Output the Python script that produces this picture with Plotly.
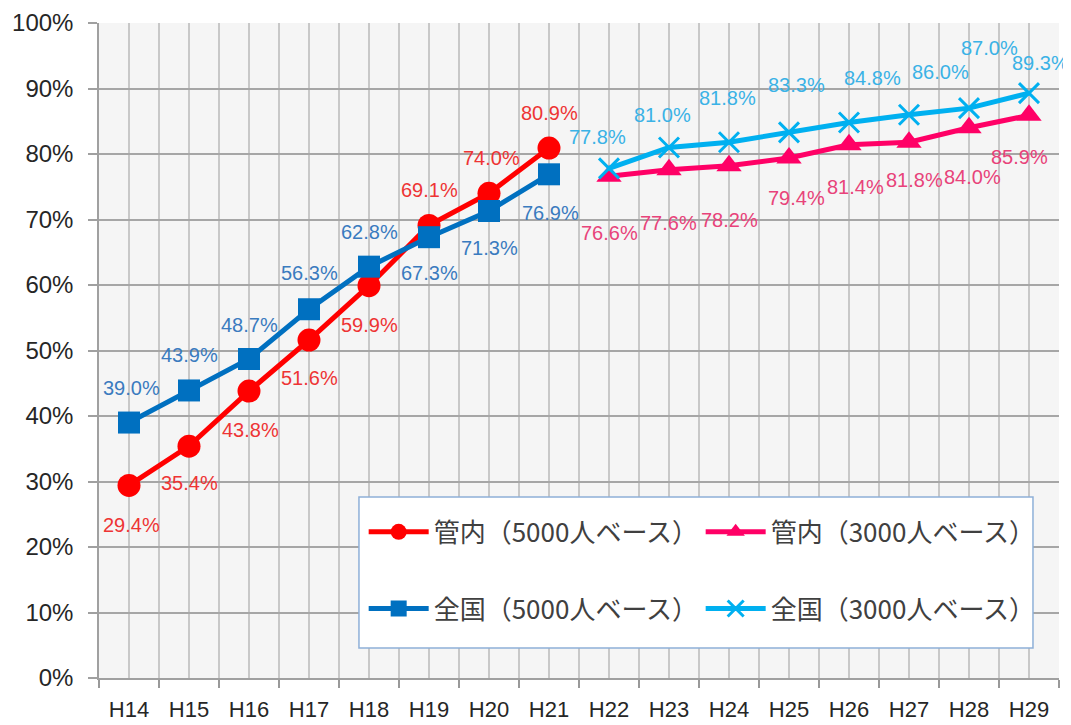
import plotly.graph_objects as go

# ---- data ----
categories = ["H14", "H15", "H16", "H17", "H18", "H19", "H20", "H21",
              "H22", "H23", "H24", "H25", "H26", "H27", "H28", "H29"]
kannai_5000 = [29.4, 35.4, 43.8, 51.6, 59.9, 69.1, 74.0, 80.9]          # H14-H21
zenkoku_5000 = [39.0, 43.9, 48.7, 56.3, 62.8, 67.3, 71.3, 76.9]         # H14-H21
kannai_3000 = [76.6, 77.6, 78.2, 79.4, 81.4, 81.8, 84.0, 85.9]          # H22-H29
zenkoku_3000 = [77.8, 81.0, 81.8, 83.3, 84.8, 86.0, 87.0, 89.3]         # H22-H29
y_ticks = [0, 10, 20, 30, 40, 50, 60, 70, 80, 90, 100]

names = ["管内（5000人ベース）", "全国（5000人ベース）",
         "管内（3000人ベース）", "全国（3000人ベース）"]

# ---- styles ----
x_pos = list(range(len(categories)))
first_half = x_pos[:8]
second_half = x_pos[8:]

series = [
    dict(name=names[0], x=first_half, y=kannai_5000, color="#FF0000", symbol="circle",
         size=23, label_color="#EE3434", legend="legend"),
    dict(name=names[1], x=first_half, y=zenkoku_5000, color="#0070C0", symbol="square",
         size=22, label_color="#3A7BBF", legend="legend2"),
    dict(name=names[2], x=second_half, y=kannai_3000, color="#FF0066", symbol="triangle-up",
         size=22, label_color="#E8437A", legend="legend"),
    dict(name=names[3], x=second_half, y=zenkoku_3000, color="#00B0F0", symbol="x-thin",
         size=20, label_color="#3AB2E6", legend="legend2"),
]

# label offsets in pixels (dx right, dy down) per point
label_offsets = [
    [(2, 40), (0, 37), (1, 39), (0, 38), (0, 39), (0, -35), (2, -35), (0, -35)],
    [(2, -35), (0, -35), (0, -34), (0, -36), (0, -35), (0, 36), (0, 37), (1, 39)],
    [(0, 57), (-1, 53), (0, 54), (7, 40), (6, 42), (5, 38), (3, 49), (-10, 42)],
    [(-12, -31), (-7, -32), (-2, -44), (7, -47), (23, -45), (31, -43), (20, -60), (11, -30)],
]

fig = go.Figure()
annotations = []
for s, offs in zip(series, label_offsets):
    marker = dict(symbol=s["symbol"], size=s["size"], color=s["color"])
    if s["symbol"] == "x-thin":
        marker["line"] = dict(color=s["color"], width=3)
    fig.add_trace(go.Scatter(
        x=s["x"], y=s["y"], name=s["name"], mode="lines+markers",
        line=dict(color=s["color"], width=5),
        marker=marker, legend=s["legend"], cliponaxis=False,
    ))
    for xi, yi, (dx, dy) in zip(s["x"], s["y"], offs):
        annotations.append(dict(
            x=xi, y=yi, text=f"{yi:.1f}%", showarrow=False,
            xshift=dx, yshift=-dy, xref="x", yref="y",
            font=dict(family="Liberation Sans, Arial", size=20, color=s["label_color"]),
        ))

legend_common = dict(
    orientation="h", entrywidth=262, entrywidthmode="pixels",
    bgcolor="rgba(0,0,0,0)", borderwidth=0,
    font=dict(family="Noto Sans CJK JP", size=26, color="#404040"),
    xanchor="left", yanchor="middle", itemwidth=60,
)

fig.update_layout(
    width=1063, height=717,
    margin=dict(l=91, r=12, t=15, b=47, autoexpand=False),
    paper_bgcolor="white",
    plot_bgcolor="#F5F5F5",
    showlegend=True,
    legend=dict(x=0.2757, y=0.223, **legend_common),
    legend2=dict(x=0.2757, y=0.106, **legend_common),
    annotations=annotations,
    shapes=[dict(
        type="rect", xref="paper", yref="paper",
        x0=0.2708, x1=0.9729, y0=0.0458, y1=0.2763,
        fillcolor="white", line=dict(color="#8EB0D8", width=1.5), layer="above",
    )],
    xaxis=dict(
        range=[-0.5, len(categories) - 0.5], automargin=False,
        tickmode="array", tickvals=x_pos, ticktext=categories,
        ticks="", showgrid=True, gridcolor="#C8C8C8", gridwidth=1.5,
        minor=dict(tickmode="array", tickvals=[i - 0.5 for i in range(len(categories) + 1)],
                   ticks="outside", ticklen=8, tickcolor="#999999", tickwidth=1.5,
                   showgrid=True, gridcolor="#C8C8C8", gridwidth=1.5),
        showline=True, linecolor="#A0A0A0", linewidth=1.5,
        tickfont=dict(family="Liberation Sans, Arial", size=22, color="#262626"),
        ticklabelstandoff=11, zeroline=False, fixedrange=True,
    ),
    yaxis=dict(
        range=[0, 100], automargin=False, tickmode="array", tickvals=y_ticks,
        ticktext=[f"{v}%" for v in y_ticks],
        ticks="outside", ticklen=9, tickcolor="#A0A0A0", tickwidth=1.5,
        showgrid=True, gridcolor="#A6A6A6", gridwidth=1.5,
        showline=True, linecolor="#A0A0A0", linewidth=1.5,
        tickfont=dict(family="Liberation Sans, Arial", size=24, color="#262626"),
        ticklabelstandoff=10, zeroline=False, fixedrange=True,
    ),
)

fig.write_html("out.html")
